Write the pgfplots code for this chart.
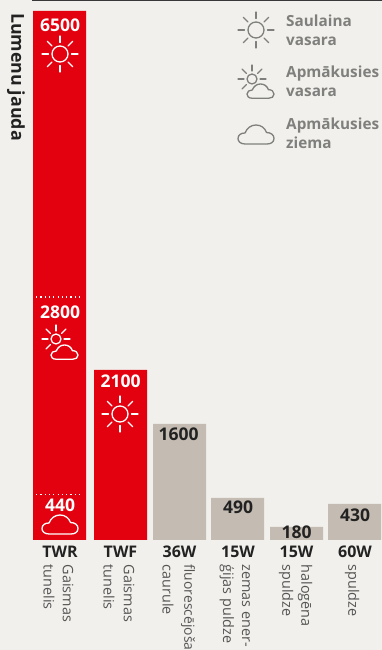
\documentclass[border=0pt]{standalone}
\usepackage{pgfplots}
\usepackage{pgfplotstable}
\usepackage{fontspec}
\pgfplotsset{compat=1.18}
\setmainfont{Open Sans}
\newcommand{\med}{\bfseries}
\definecolor{bg}{HTML}{F1F0EC}
\definecolor{redbar}{HTML}{E3000F}
\definecolor{greybar}{HTML}{C4BCB2}
\definecolor{ink}{HTML}{222222}
\definecolor{sub}{HTML}{555555}
\definecolor{leg}{HTML}{7F7F7D}
% x = bar centre; h = bar height as drawn in the picture (the bars are not to scale); the labels give the values
\pgfplotstableread{
x h
59.5 529
120.5 170
}\redbars
\pgfplotstableread{
x h
179.5 116
237.5 42
296.5 13
354.5 36
}\greybars
\pgfplotstableread{
x y lab
60 515 6500
60 228 2800
60 35 440
120.5 159 2100
}\whitelabels
\pgfplotstableread{
x y lab
178.5 106 1600
238 33 490
296.5 8 180
355 25 430
}\darklabels
\newcommand{\sunicon}[5]{% x,y,r,r1,r2
 \draw (#1,#2) circle (#3);
 \foreach \a in {0,45,...,315}{\draw (#1,#2) ++(\a:#4) -- ++(\a:#5-#4);}
}
\newcommand{\sunpart}[5]{% partial sun: the cloud hides the rays at the lower right
 \draw (#1,#2) circle (#3);
 \foreach \a in {0,45,90,135,180,225}{\draw (#1,#2) ++(-\a:#4) -- ++(-\a:#5-#4);}
}
\newcommand{\cloudicon}[3]{% x,y,scale
 \begin{scope}[shift={(#1,#2)},scale=#3]
 \draw (7,19) .. controls (2,19) and (0,16) .. (0,13.5) .. controls (0,10) and (3,8) .. (7,8)
  .. controls (9,3) and (13,0) .. (18,0) .. controls (23,0) and (27,3) .. (28.5,7.5)
  .. controls (33,7.5) and (36,10) .. (36,13.5) .. controls (36,17) and (33,19) .. (29,19) -- cycle;
 \end{scope}
}
\newcommand{\rotlab}[3][14.4]{\node[rotate=-90,anchor=west,text=sub,font=\fontsize{#1}{15}\selectfont,inner sep=0pt] at (#2,564.5) {#3};}
\newcommand{\cat}[2]{\node[text=ink,font=\med\fontsize{16}{16}\selectfont,inner sep=0pt] at (#1,552) {#2};}
\newcommand{\legtxt}[2]{\node[anchor=base west,text=leg,font=\med\fontsize{15.3}{16}\selectfont,inner sep=0pt] at (286,#1) {#2};}
\begin{document}
\begin{tikzpicture}[x=1pt,y=1pt]
\useasboundingbox (0,0) rectangle (382,650);
\fill[bg] (0,0) rectangle (382,650);
\begin{axis}[
 at={(0,0)},anchor=south west,scale only axis,width=382pt,height=650pt,
 xmin=0,xmax=382,ymin=-110,ymax=540,hide axis,clip=false,
 ybar,bar shift=0pt,bar width=53pt,
 nodes near coords style={font=\med\fontsize{17.5}{18}\selectfont,anchor=center,inner sep=0pt},
]
\addplot[fill=redbar,draw=none] table[x=x,y=h] {\redbars};
\addplot[fill=greybar,draw=none] table[x=x,y=h] {\greybars};
\addplot[sharp plot,draw=white,line width=1.2pt,dash pattern=on 1.2pt off 3.1pt,forget plot] coordinates {(36,243) (83,243)};
\addplot[sharp plot,draw=white,line width=1.2pt,dash pattern=on 1.2pt off 3.1pt,forget plot] coordinates {(36,45.5) (83,45.5)};
\addplot[sharp plot,draw=none,mark=none,point meta=explicit symbolic,nodes near coords,
  nodes near coords style={text=white}] table[x=x,y=y,meta=lab] {\whitelabels};
\addplot[sharp plot,draw=none,mark=none,point meta=explicit symbolic,nodes near coords,
  nodes near coords style={text=ink}] table[x=x,y=y,meta=lab] {\darklabels};
\end{axis}
% pixel coordinates measured from the top left
\begin{scope}[shift={(0,650)},y=-1pt]
\draw[ink!90,line width=1.5pt] (32,0.5) -- (382,0.5);
\node[rotate=-90,text=ink,font=\bfseries\fontsize{17.8}{18}\selectfont,inner sep=0pt] at (16,77) {Lumenu jauda};
\begin{scope}[draw=white,line width=1.3pt,line cap=round]
\sunicon{60}{54}{8}{11.5}{18}
\sunicon{120}{414}{8}{11.5}{18}
\sunpart{56}{339}{5}{8}{14}
\cloudicon{51}{345}{0.75}
\cloudicon{42}{515}{1}
\end{scope}
\begin{scope}[draw=leg,line width=1.3pt,line cap=round]
\sunicon{256}{30}{8}{11.5}{18}
\sunpart{252}{79}{5}{8}{14}
\cloudicon{247}{84}{0.75}
\cloudicon{238}{125}{1}
\end{scope}
\legtxt{27}{Saulaina}
\legtxt{46}{vasara}
\legtxt{78}{Apmākusies}
\legtxt{97}{vasara}
\legtxt{130}{Apmākusies}
\legtxt{149}{ziema}
\cat{60}{TWR}\cat{120.5}{TWF}\cat{179.5}{36W}\cat{238}{15W}\cat{296.5}{15W}\cat{355}{60W}
\rotlab{68}{Gaismas}
\rotlab{49}{tunelis}
\rotlab{129}{Gaismas}
\rotlab{109}{tunelis}
\rotlab[13.9]{188}{fluorescējoša}
\rotlab{168}{caurule}
\rotlab{246}{zemas ener-}
\rotlab{227}{ģijas puldze}
\rotlab{305}{halogēna}
\rotlab{286}{spuldze}
\rotlab{352}{spuldze}
\end{scope}
\end{tikzpicture}
\end{document}
